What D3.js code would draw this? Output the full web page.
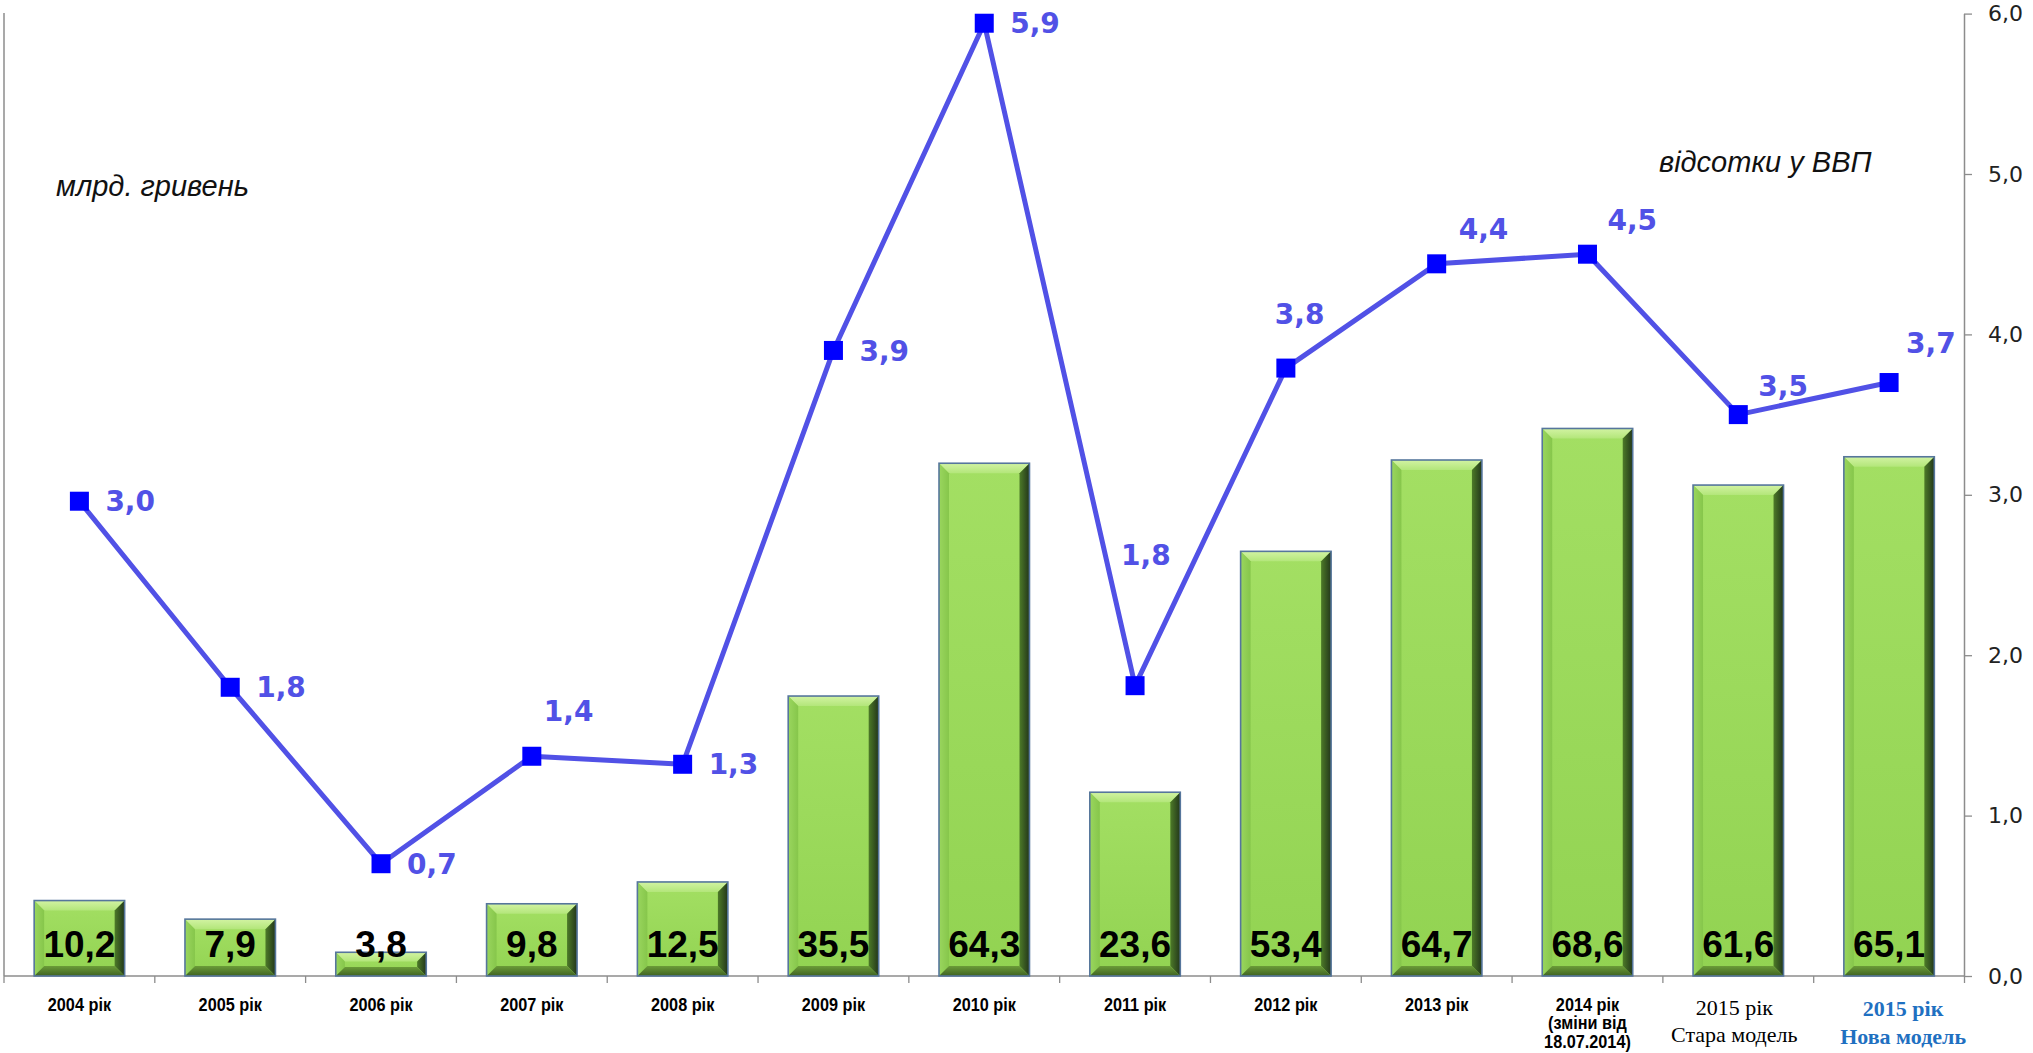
<!DOCTYPE html>
<html><head><meta charset="utf-8">
<script src="https://cdn.jsdelivr.net/npm/d3@7"></script>
<style>body{margin:0;background:#fff;} svg{display:block;}</style>
</head><body>
<svg id="chart" width="2033" height="1053"></svg>
<script>
// ---- data ----
const categories = [
  ["2004 рік"], ["2005 рік"], ["2006 рік"], ["2007 рік"], ["2008 рік"],
  ["2009 рік"], ["2010 рік"], ["2011 рік"], ["2012 рік"], ["2013 рік"],
  ["2014 рік", "(зміни від", "18.07.2014)"],
  ["2015 рік", "Стара модель"],
  ["2015 рік", "Нова модель"]
];
const spending = [10.2, 7.9, 3.8, 9.8, 12.5, 35.5, 64.3, 23.6, 53.4, 64.7, 68.6, 61.6, 65.1];
const gdpShare = [2.96, 1.8, 0.7, 1.37, 1.32, 3.9, 5.94, 1.81, 3.79, 4.44, 4.5, 3.5, 3.7];
const rightTicks = [0, 1, 2, 3, 4, 5, 6];
const leftTitle = "млрд. гривень";
const rightTitle = "відсотки у ВВП";

// ---- layout ----
const W = 2033, H = 1053;
const plot = {left: 4, right: 1964, top: 13, bottom: 976};
const lineLabelOffsets = [[26,0],[26,0],[26,0],[12,-45],[26,0],[26,0],[26,0],[-14,-131],[-11,-54],[22,-35],[20,-34],[20,-29],[17,-40]];
const catStyle = i => i < 11
  ? {family: "'Liberation Sans', Arial, sans-serif", weight: "bold", size: 17.5, fill: "#000", lh: 18.5, base: 1011, dx: 0, sx: 0.93}
  : i === 11
    ? {family: "'Liberation Serif', 'Times New Roman', serif", weight: "normal", size: 22, fill: "#000", lh: 27, base: 1015, dx: -4, sx: 1}
    : {family: "'Liberation Serif', 'Times New Roman', serif", weight: "bold", size: 22, fill: "#1F70C1", lh: 28, base: 1016, dx: 14, sx: 1};

const fmt = v => v.toFixed(1).replace('.', ',');

const svg = d3.select("#chart");
const idx = d3.range(categories.length);
const x = d3.scaleBand().domain(idx).range([plot.left, plot.right + 0.5]).paddingInner(0).paddingOuter(0);
const yL = d3.scaleLinear().domain([0, 120]).range([983, 13]);
const yR = d3.scaleLinear().domain([0, 6]).range([plot.bottom, 13.6]);
const bw = x.bandwidth();
const barW = bw * 0.6;

// gradients
const defs = svg.append("defs");
function lin(id, stops, x1, y1, x2, y2) {
  const g = defs.append("linearGradient").attr("id", id)
    .attr("x1", x1).attr("y1", y1).attr("x2", x2).attr("y2", y2);
  stops.forEach(s => g.append("stop").attr("offset", s[0]).attr("stop-color", s[1]));
}
lin("gFace", [[0, "#a3df63"], [1, "#92d352"]], 0, 0, 0, 1);
lin("gTop", [[0, "#d2f3a3"], [1, "#b3e67a"]], 0, 0, 0, 1);
lin("gLeft", [[0, "#9ad65e"], [1, "#86c64b"]], 0, 0, 1, 0);
lin("gRight", [[0, "#4d7a28"], [1, "#22361a"]], 0, 0, 1, 0);
lin("gBot", [[0, "#6b9c38"], [1, "#3f6222"]], 0, 0, 0, 1);

// axes lines
svg.append("line").attr("x1", plot.left).attr("x2", plot.left)
  .attr("y1", plot.top).attr("y2", plot.bottom)
  .attr("stroke", "#8c8c8c").attr("stroke-width", 1.5);

const bottomAxis = svg.append("g");
bottomAxis.append("line").attr("x1", plot.left).attr("x2", plot.right)
  .attr("y1", plot.bottom).attr("y2", plot.bottom)
  .attr("stroke", "#8c8c8c").attr("stroke-width", 1.5);
bottomAxis.selectAll("line.tk").data(d3.range(categories.length + 1)).join("line")
  .attr("class", "tk")
  .attr("x1", i => i < categories.length ? x(i) : x(i - 1) + bw)
  .attr("x2", i => i < categories.length ? x(i) : x(i - 1) + bw)
  .attr("y1", plot.bottom).attr("y2", plot.bottom + 7)
  .attr("stroke", "#8c8c8c").attr("stroke-width", 1.3);

// right axis
const rAxis = svg.append("g").attr("transform", `translate(${plot.right},0)`)
  .call(d3.axisRight(yR).tickValues(rightTicks).tickFormat(fmt).tickSize(8).tickSizeOuter(0).tickPadding(16));
rAxis.select(".domain").attr("stroke", "#8c8c8c").attr("stroke-width", 1.5);
rAxis.selectAll(".tick line").attr("stroke", "#8c8c8c").attr("stroke-width", 1.3);
rAxis.selectAll(".tick text").attr("font-family", "'DejaVu Sans', Verdana, sans-serif")
  .attr("font-size", 22).attr("fill", "#222");

// bars with bevel
const bars = svg.append("g").selectAll("g").data(spending).join("g");
bars.each(function(v, i) {
  const g = d3.select(this);
  const x0 = x(i) + (bw - barW) / 2, x1 = x0 + barW;
  const y0 = yL(v), y1 = plot.bottom;
  const b = Math.min(10, (y1 - y0) / 2.6);
  const P = pts => pts.map(p => p.join(",")).join(" ");
  g.append("rect").attr("x", x0).attr("y", y0).attr("width", barW).attr("height", y1 - y0).attr("fill", "url(#gFace)");
  g.append("polygon").attr("points", P([[x0,y0],[x1,y0],[x1-b,y0+b],[x0+b,y0+b]])).attr("fill", "url(#gTop)");
  g.append("polygon").attr("points", P([[x0,y0],[x0+b,y0+b],[x0+b,y1-b],[x0,y1]])).attr("fill", "url(#gLeft)");
  g.append("polygon").attr("points", P([[x1,y0],[x1,y1],[x1-b,y1-b],[x1-b,y0+b]])).attr("fill", "url(#gRight)");
  g.append("polygon").attr("points", P([[x0,y1],[x1,y1],[x1-b,y1-b],[x0+b,y1-b]])).attr("fill", "url(#gBot)");
  g.append("rect").attr("x", x0).attr("y", y0).attr("width", barW).attr("height", y1 - y0)
    .attr("fill", "none").attr("stroke", "#56769c").attr("stroke-width", 1.6);
});

// line
const lineColor = "#5151e6";
svg.append("path").datum(gdpShare)
  .attr("d", d3.line().x((d, i) => x(i) + bw / 2).y(d => yR(d)))
  .attr("fill", "none").attr("stroke", lineColor).attr("stroke-width", 5).attr("stroke-linejoin", "round");
const ms = 19;
svg.append("g").selectAll("rect").data(gdpShare).join("rect")
  .attr("x", (d, i) => x(i) + bw / 2 - ms / 2).attr("y", d => yR(d) - ms / 2)
  .attr("width", ms).attr("height", ms).attr("fill", "#0000ff");
svg.append("g").selectAll("text").data(gdpShare).join("text")
  .attr("x", (d, i) => x(i) + bw / 2 + lineLabelOffsets[i][0])
  .attr("y", (d, i) => yR(d) + lineLabelOffsets[i][1])
  .attr("dy", "0.36em")
  .attr("font-family", "'DejaVu Sans', Verdana, sans-serif").attr("font-weight", "bold")
  .attr("font-size", 28).attr("fill", lineColor)
  .text(fmt);

// bar labels
svg.append("g").selectAll("text").data(spending).join("text")
  .attr("x", (d, i) => x(i) + bw / 2).attr("y", 957)
  .attr("text-anchor", "middle")
  .attr("font-family", "'Liberation Sans', Arial, sans-serif").attr("font-weight", "bold")
  .attr("font-size", 37).attr("fill", "#000")
  .text(fmt);

// category labels
svg.append("g").selectAll("text").data(categories).join("text")
  .each(function(lines, i) {
    const s = catStyle(i);
    const cx = x(i) + bw / 2 + s.dx;
    const t = d3.select(this)
      .attr("transform", `translate(${cx},0) scale(${s.sx},1)`)
      .attr("text-anchor", "middle")
      .attr("font-family", s.family).attr("font-weight", s.weight)
      .attr("font-size", s.size).attr("fill", s.fill);
    lines.forEach((ln, j) => {
      t.append("tspan").attr("x", 0).attr("y", s.base + j * s.lh).text(ln);
    });
  });

// titles
svg.append("text").attr("x", 56).attr("y", 196)
  .attr("font-family", "'Liberation Sans', Arial, sans-serif").attr("font-style", "italic")
  .attr("font-size", 29).attr("fill", "#111").text(leftTitle);
svg.append("text").attr("x", 1659).attr("y", 172)
  .attr("font-family", "'Liberation Sans', Arial, sans-serif").attr("font-style", "italic")
  .attr("font-size", 29).attr("fill", "#111").text(rightTitle);
</script>
</body></html>
